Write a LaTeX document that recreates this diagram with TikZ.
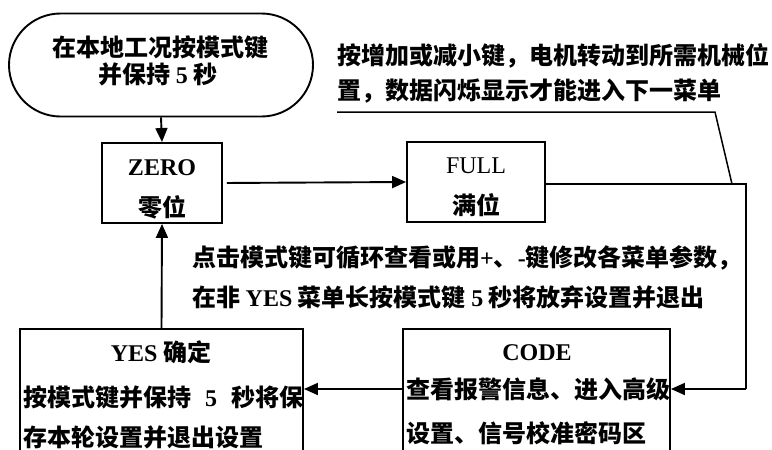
\documentclass[tikz,border=0pt]{standalone}
\usepackage{fontspec}
\setmainfont{Noto Sans CJK SC}
\newfontfamily\latfont{Liberation Serif}
\usetikzlibrary{arrows.meta,shapes.misc}
\newcommand\lt[1]{{\latfont #1}}
\begin{document}
\begin{tikzpicture}[x=1pt,y=-1pt,
  ln/.style={line width=1.9pt},
  arr/.style={line width=1.9pt,-{Triangle[length=14pt,width=12pt]}},
  boxnode/.style={draw,line width=1.9pt,inner sep=0,minimum width=#1},
  txt/.style={inner sep=0,anchor=base west,font=\bfseries\fontsize{24}{28}\selectfont},
  ctxt/.style={txt,anchor=base}]
\clip (0,0) rectangle (772,450);
\fill[white] (0,0) rectangle (772,450);
% boxes
\node[draw,line width=1.9pt,rounded rectangle,minimum width=304pt,minimum height=103pt,inner sep=0] (term) at (161,65) {};
\node[boxnode=120pt,minimum height=80pt] (zero) at (162,183) {};
\node[boxnode=138pt,minimum height=80pt] (full) at (476,182) {};
\node[boxnode=283pt,minimum height=151pt] (yes) at (161.5,404.5) {};
\node[boxnode=267pt,minimum height=151pt] (code) at (536.5,404.5) {};
% texts
\node[ctxt] (t1) at (160.5,56) {在本地工况按模式键};
\node[ctxt] (t2) at (158,83) {并保持 \lt{5} 秒};
\node[ctxt] (z1) at (162,175) {\lt{ZERO}};
\node[ctxt] (z2) at (162,216) {零位};
\node[ctxt,font=\mdseries\fontsize{24}{28}\selectfont] (f1) at (476,173) {\lt{FULL}};
\node[ctxt] (f2) at (476,214) {满位};
\node[txt] (c1) at (337,64) {按增加或减小键，电机转动到所需机械位};
\node[txt] (c2) at (337,99) {置，数据闪烁显示才能进入下一菜单};
\node[txt] (m1) at (192,266) {点击模式键可循环查看或用\lt{+}、\lt{-}键修改各菜单参数，};
\node[txt] (m2) at (192,306) {在非 \lt{YES} 菜单长按模式键 \lt{5} 秒将放弃设置并退出};
\node[ctxt] (y1) at (161,361) {\lt{YES} 确定};
\node[txt] (y2) at (23,406) {按模式键并保持\hspace{14pt}\lt{5}\hspace{14pt}秒将保};
\node[txt] (y3) at (23,446) {存本轮设置并退出设置};
\node[ctxt] (k1) at (537,360) {\lt{CODE}};
\node[txt] (k2) at (406,398) {查看报警信息、进入高级};
\node[txt] (k3) at (406,442) {设置、信号校准密码区};
% connectors
\coordinate (r1) at (746,184);
\coordinate (r2) at (746,389);
\coordinate (p1) at (337,112);
\coordinate (p2) at (715,112);
\coordinate (p3) at (732,184);
\draw[arr] (term.south) -- (zero.north);
\draw[arr,shorten <=4pt] (zero.east) -- (full.west);
\draw[ln] (full.east |- r1) -- (r1) -- (r2);
\draw[arr] (r2) -- (code.east |- r2);
\draw[arr] (code.west |- r2) -- (yes.east |- r2);
\draw[arr] (yes.north) -- (zero.south);
\draw[line width=1.5pt] (p1) -- (p2) -- (p3);
\end{tikzpicture}
\end{document}
